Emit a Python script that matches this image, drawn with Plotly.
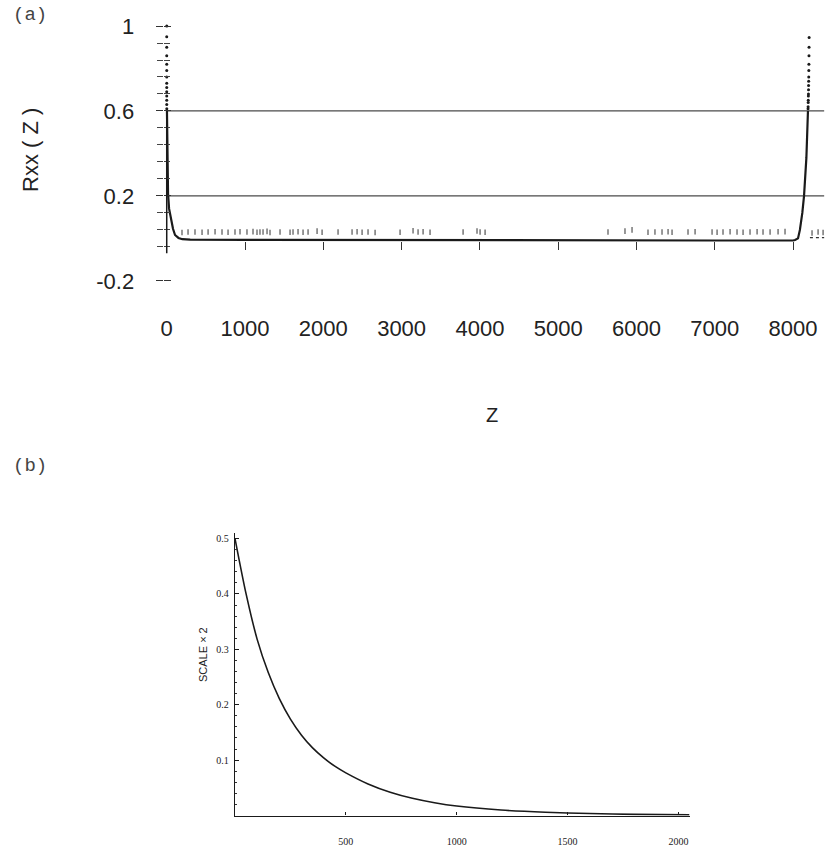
import plotly.graph_objects as go

W, H = 825, 847

# ---- (a) autocorrelation Rxx(Z) ----
rxx_z = [3, 6, 10, 17, 30, 55, 80, 106, 150, 200, 300, 1000, 2000, 3000, 4000,
         5000, 6000, 7000, 8000, 8025, 8063, 8087, 8118, 8140, 8170, 8190]
rxx_v = [0.60, 0.42, 0.30, 0.21, 0.14, 0.087, 0.045, 0.016, 0.002, -0.004, -0.006,
         -0.007, -0.008, -0.008, -0.009, -0.010, -0.010, -0.010, -0.010, -0.008,
         0.000, 0.040, 0.120, 0.200, 0.380, 0.600]

# sampled points on the steep ends (drawn as dots)
start_z = [0, 0, 0, 0, 0, 0, 0, 0, 0, 0, 0, 0, 0, 1]
start_v = [1.0, 0.95, 0.90, 0.86, 0.82, 0.79, 0.76, 0.73, 0.71, 0.69, 0.67, 0.65, 0.63, 0.61]
peak_z = [8205, 8204, 8203, 8202, 8201, 8200, 8199, 8198, 8197, 8196, 8195, 8194, 8193, 8192, 8191]
peak_v = [0.946, 0.90, 0.86, 0.82, 0.79, 0.76, 0.74, 0.72, 0.70, 0.68, 0.67, 0.65, 0.64, 0.62, 0.61]

# wrapped baseline past the period
tail_z = [8215, 8400]
tail_v = [0.004, 0.004]

# reference levels
level_a = 0.6
level_b = 0.2
level_z = [0, 8400]

# small noise marks just above the baseline
noise_z = [195, 272, 361, 451, 528, 617, 706, 783, 872, 936, 1025, 1102, 1153, 1191,
           1230, 1281, 1319, 1447, 1575, 1613, 1677, 1741, 1805, 1920, 1984, 2188,
           2367, 2431, 2495, 2571, 2661, 2980, 3146, 3210, 3274, 3363, 3785, 3963,
           4002, 4066, 5636, 5853, 5943, 6147, 6236, 6326, 6403, 6454, 6658, 6748,
           6965, 7029, 7105, 7195, 7284, 7361, 7450, 7540, 7616, 7706, 7808, 7897,
           8242, 8319, 8383]
noise_v = [0.028, 0.030, 0.030, 0.029, 0.030, 0.031, 0.030, 0.029, 0.030, 0.031,
           0.030, 0.032, 0.029, 0.030, 0.030, 0.033, 0.028, 0.030, 0.029, 0.030,
           0.031, 0.029, 0.030, 0.034, 0.029, 0.030, 0.030, 0.031, 0.029, 0.030,
           0.028, 0.029, 0.036, 0.030, 0.031, 0.029, 0.030, 0.035, 0.030, 0.029,
           0.030, 0.034, 0.040, 0.029, 0.030, 0.030, 0.031, 0.029, 0.030, 0.031,
           0.030, 0.029, 0.030, 0.031, 0.030, 0.029, 0.030, 0.031, 0.030, 0.030,
           0.031, 0.032, 0.025, 0.030, 0.028]

x_ticks_a = [0, 1000, 2000, 3000, 4000, 5000, 6000, 7000, 8000]
y_ticks_a = [-0.2, 0.2, 0.6, 1.0]
y_labels_a = ["-0.2", "0.2", "0.6", "1"]
y_minor_a = [1.0, 0.92, 0.84, 0.76, 0.68, 0.6, 0.52, 0.44, 0.36, 0.28, 0.2, 0.12, 0.04, -0.04]

# ---- (b) SCALE x 2 ----
scale_z = [0, 50, 100, 150, 200, 250, 300, 350, 400, 450, 500, 600, 700, 800, 900,
           1000, 1200, 1400, 1600, 1800, 2050]
scale_v = [0.50, 0.40, 0.318, 0.258, 0.211, 0.174, 0.145, 0.122, 0.104, 0.089, 0.077,
           0.057, 0.042, 0.031, 0.023, 0.017, 0.0098, 0.0058, 0.0035, 0.0021, 0.0011]
x_ticks_b = [500, 1000, 1500, 2000]
y_ticks_b = [0.1, 0.2, 0.3, 0.4, 0.5]


def px_x(p):
    return p / W


def px_y(p):
    return 1 - p / H


INK = "#1a1a1a"
fig = go.Figure()

# panel (a)
for lv in (level_a, level_b):
    fig.add_trace(go.Scatter(x=level_z, y=[lv, lv], mode="lines",
                             line=dict(color="#4a4a4a", width=1.2),
                             hoverinfo="skip", showlegend=False))
fig.add_trace(go.Scatter(x=noise_z, y=noise_v, mode="markers",
                         marker=dict(symbol="line-ns", size=4,
                                     line=dict(color="#444", width=1.1)),
                         showlegend=False, cliponaxis=False))
fig.add_trace(go.Scatter(x=rxx_z, y=rxx_v, mode="lines",
                         line=dict(color=INK, width=2.2), showlegend=False,
                         cliponaxis=False))
fig.add_trace(go.Scatter(x=tail_z, y=tail_v, mode="lines",
                         line=dict(color="#333", width=1.2, dash="dot"),
                         showlegend=False))
fig.add_trace(go.Scatter(x=start_z + peak_z, y=start_v + peak_v, mode="markers",
                         marker=dict(color=INK, size=3), showlegend=False,
                         cliponaxis=False))
# carrier trace for the overlay axes
fig.add_trace(go.Scatter(x=[0], y=[0], xaxis="x2", yaxis="y2", mode="markers",
                         marker=dict(opacity=0), hoverinfo="skip", showlegend=False))

# panel (b)
fig.add_trace(go.Scatter(x=scale_z, y=scale_v, mode="lines", xaxis="x3", yaxis="y3",
                         line=dict(color=INK, width=1.6, shape="spline", smoothing=0.8),
                         showlegend=False, cliponaxis=False))

xa_dom = [px_x(163.6), px_x(824.4)]
ya_dom = [px_y(312.7), px_y(15.4)]
xb_dom = [px_x(235), px_x(689.5)]
yb_dom = [px_y(815.5), px_y(533)]

sans = "Liberation Sans, Arial, sans-serif"
serif = "Liberation Serif, Times New Roman, serif"

fig.update_layout(
    template="none",
    width=W, height=H,
    margin=dict(l=0, r=0, t=0, b=0),
    paper_bgcolor="white", plot_bgcolor="rgba(0,0,0,0)",
    showlegend=False,
    xaxis=dict(domain=xa_dom, range=[-40, 8400], anchor="y", showgrid=False,
               zeroline=False, showline=False, ticks="", tickvals=x_ticks_a,
               tickfont=dict(family=sans, size=22, color="#222"), automargin=False),
    yaxis=dict(domain=ya_dom, range=[-0.35, 1.05], anchor="x", showgrid=False,
               zeroline=False, showline=False, tickvals=y_ticks_a, ticktext=y_labels_a,
               ticks="outside", ticklen=7, tickwidth=1.2, tickcolor="#333",
               minor=dict(ticks="outside", ticklen=6, tickvals=y_minor_a,
                          tickcolor="#444", tickwidth=1, showgrid=False),
               ticklabelstandoff=17,
               tickfont=dict(family=sans, size=22, color="#222"), automargin=False),
    xaxis2=dict(overlaying="x", anchor="free", position=px_y(241), range=[-40, 8400],
                showgrid=False, zeroline=False, showline=False, ticks="outside",
                ticklen=8, tickwidth=1.2, tickcolor="#333",
                tickvals=x_ticks_a[1:], showticklabels=False, automargin=False),
    yaxis2=dict(overlaying="y", anchor="x", side="left", range=[-0.35, 1.05],
                showgrid=False, zeroline=False, showline=False, tickvals=y_ticks_a,
                ticks="inside", ticklen=7, tickwidth=1.2, tickcolor="#333",
                minor=dict(ticks="inside", ticklen=6, tickvals=y_minor_a,
                           tickcolor="#444", tickwidth=1, showgrid=False),
                showticklabels=False, automargin=False),
    xaxis3=dict(domain=xb_dom, range=[0, 2050], anchor="y3", showgrid=False,
                zeroline=False, showline=True, linecolor=INK, linewidth=1.3,
                ticks="inside", ticklen=3, tickcolor=INK, tickvals=x_ticks_b,
                ticklabelstandoff=16,
                tickfont=dict(family=serif, size=10, color="#222"), automargin=False),
    yaxis3=dict(domain=yb_dom, range=[0, 0.51], anchor="x3", showgrid=False,
                zeroline=False, showline=True, linecolor=INK, linewidth=1.3,
                ticks="inside", ticklen=4, tickcolor=INK, tickvals=y_ticks_b,
                ticktext=["0.1", "0.2", "0.3", "0.4", "0.5"],
                minor=dict(ticks="inside", ticklen=2, dtick=0.02, tickcolor="#333"),
                ticklabelstandoff=3,
                tickfont=dict(family=serif, size=10, color="#222"), automargin=False),
)

# vertical axis stroke of panel (a)
fig.add_shape(type="line", xref="x", yref="y", x0=0, x1=0, y0=-0.07, y1=0.6,
              line=dict(color=INK, width=1.5))

ann = [
    dict(text="(a)", x=px_x(30), y=px_y(15), font=dict(family="Liberation Mono", size=19, color="#444")),
    dict(text="(b)", x=px_x(30), y=px_y(466), font=dict(family="Liberation Mono", size=19, color="#444")),
    dict(text="Rxx ( Z )", x=px_x(30), y=px_y(150), textangle=-90,
         font=dict(family=sans, size=22, color="#222")),
    dict(text="Z", x=px_x(492), y=px_y(415), font=dict(family=sans, size=20, color="#222")),
    dict(text="SCALE × 2", x=px_x(203), y=px_y(655), textangle=-90,
         font=dict(family=sans, size=11, color="#222")),
]
for a in ann:
    fig.add_annotation(xref="paper", yref="paper", showarrow=False,
                       xanchor="center", yanchor="middle", **a)

fig.write_html("out.html")
